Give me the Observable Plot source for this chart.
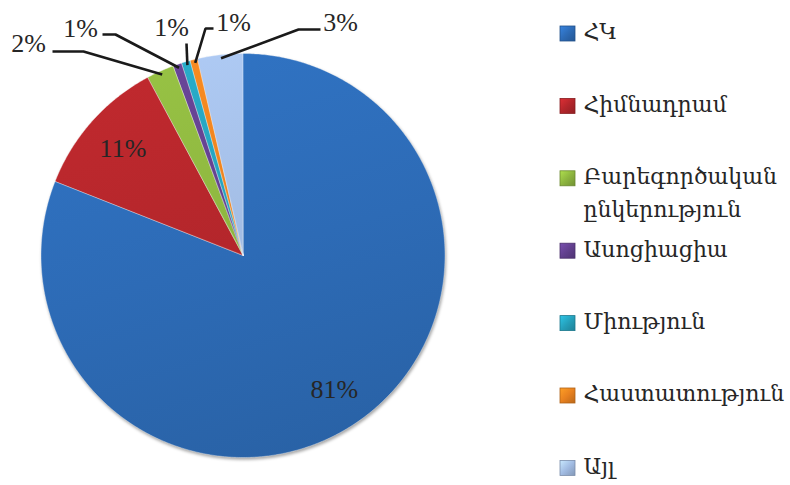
<!DOCTYPE html>
<html><head><meta charset="utf-8">
<script src="https://cdn.jsdelivr.net/npm/d3@7"></script>
<script src="https://cdn.jsdelivr.net/npm/@observablehq/plot@0.6"></script>
<style>html,body{margin:0;padding:0;background:#fff}#chart{width:790px;height:485px}</style>
</head><body><div id="chart"></div>
<script>
// ---- data ----
const categories = ["ՀԿ", "Հիմնադրամ", "Բարեգործական ընկերություն", "Ասոցիացիա", "Միություն", "Հաստատություն", "Այլ"];
const shares = [81.0, 11.2, 2.2, 0.7, 0.7, 0.6, 3.6];
const percentLabels = ["81%", "11%", "2%", "1%", "1%", "1%", "3%"];
const colors = ["#2d6bb6", "#b3262b", "#8db53f", "#62408e", "#25a0bb", "#e8811f", "#a2bce3"];

// ---- layout ----
const W = 790, H = 485, cx = 243, cy = 255.5, R = 202;
const total = d3.sum(shares);
let acc = 0;
const slices = categories.map((cat, i) => {
  const a0 = acc / total * 2 * Math.PI; acc += shares[i];
  const a1 = acc / total * 2 * Math.PI;
  return {cat, i, a0, a1, mid: (a0 + a1) / 2};
});
const px = (a, r) => cx + r * Math.sin(a);
const py = (a, r) => cy - r * Math.cos(a);

const arcPts = slices.flatMap(s => {
  const n = Math.max(2, Math.ceil((s.a1 - s.a0) / (Math.PI / 360)) + 1);
  return d3.range(n).map(k => {
    const a = s.a0 + (s.a1 - s.a0) * k / (n - 1);
    return {cat: s.cat, x: px(a, R), y: py(a, R), x0: cx, y0: cy};
  });
});

// outside label placement (label centre + leader elbow/end points)
const outerLayout = [null, null,
  {tx: 28, ty: 43, path: [[83, 51], [52, 51]]},
  {tx: 80, ty: 28, path: [[115, 34], [102, 34]]},
  {tx: 171, ty: 27, path: [[186, 43]]},
  {tx: 233, ty: 22, path: [[205, 28], [213, 28]]},
  {tx: 340, ty: 22, path: [[298, 29], [320, 29]]}
];
const labelPts = slices.map(s => {
  const o = outerLayout[s.i];
  return o ? {text: percentLabels[s.i], x: o.tx, y: o.ty}
           : {text: percentLabels[s.i], x: px(s.mid, 0.8 * R), y: py(s.mid, 0.8 * R)};
});
const leaderPts = slices.filter(s => outerLayout[s.i]).flatMap(s => {
  const o = outerLayout[s.i];
  return [{cat: s.cat, x: px(s.mid, 0.985 * R), y: py(s.mid, 0.985 * R)},
          ...o.path.map(([x, y]) => ({cat: s.cat, x, y}))];
});

const legendX = 560, legendTextX = 583, legendY0 = 33.5, legendStep = 72.4, sq = 15;
const legendRows = categories.map((cat, i) => ({cat, i, y: legendY0 + legendStep * i}));

const plot = Plot.plot({
  width: W, height: H, margin: 0,
  x: {domain: [0, W], range: [0, W], axis: null},
  y: {domain: [0, H], range: [0, H], axis: null},
  color: {type: "ordinal", domain: categories, range: categories.map((_, i) => `url(#pg${i})`)},
  style: {background: "#fff", overflow: "visible"},
  marks: [
    Plot.area(arcPts, {x1: "x", y1: "y", x2: "x0", y2: "y0", z: "cat", fill: "cat",
      stroke: "#ffffff", strokeOpacity: 0.35, strokeWidth: 1}),
    Plot.line(leaderPts, {x: "x", y: "y", z: "cat", stroke: "#1a1a1a", strokeWidth: 2.6,
      strokeLinejoin: "miter", strokeLinecap: "butt"}),
    Plot.text(labelPts, {x: "x", y: "y", text: "text", fontFamily: "Liberation Serif, DejaVu Serif, serif",
      fontSize: 26, fill: "#262626"}),
    ...legendRows.map(r => Plot.rect([r], {x1: legendX, x2: legendX + sq, y1: d => d.y - sq / 2, y2: d => d.y + sq / 2,
      fill: `url(#lg${r.i})`, stroke: d3.color(colors[r.i]).darker(0.8).formatHex(), strokeWidth: 0.8})),
    Plot.text(legendRows, {x: legendTextX, y: "y", text: "cat", textAnchor: "start", lineAnchor: "top",
      lineWidth: 8, lineHeight: 1.5, dy: -18, fontFamily: "DejaVu Serif, serif", fontSize: 22, fill: "#262626"})
  ]
});

// gradients for the bevelled look
const svg = d3.select(plot);
const defs = svg.insert("defs", ":first-child");
colors.forEach((c, i) => {
  const g = defs.append("linearGradient").attr("id", `pg${i}`).attr("gradientUnits", "userSpaceOnUse")
    .attr("x1", cx - R * 0.3).attr("y1", cy - R).attr("x2", cx + R * 0.3).attr("y2", cy + R);
  g.append("stop").attr("offset", 0).attr("stop-color", d3.color(c).brighter(0.2).formatHex());
  g.append("stop").attr("offset", 0.5).attr("stop-color", c);
  g.append("stop").attr("offset", 1).attr("stop-color", d3.color(c).darker(0.25).formatHex());
  const l = defs.append("linearGradient").attr("id", `lg${i}`).attr("x1", 0).attr("y1", 0).attr("x2", 1).attr("y2", 1);
  l.append("stop").attr("offset", 0).attr("stop-color", d3.color(c).brighter(0.6).formatHex());
  l.append("stop").attr("offset", 0.5).attr("stop-color", c);
  l.append("stop").attr("offset", 1).attr("stop-color", d3.color(c).darker(0.6).formatHex());
});
svg.selectAll("g[aria-label='area']").style("filter", "drop-shadow(1.5px 2.5px 1.5px rgba(0,0,0,0.35))");
document.getElementById("chart").appendChild(plot);
</script>
</body></html>
